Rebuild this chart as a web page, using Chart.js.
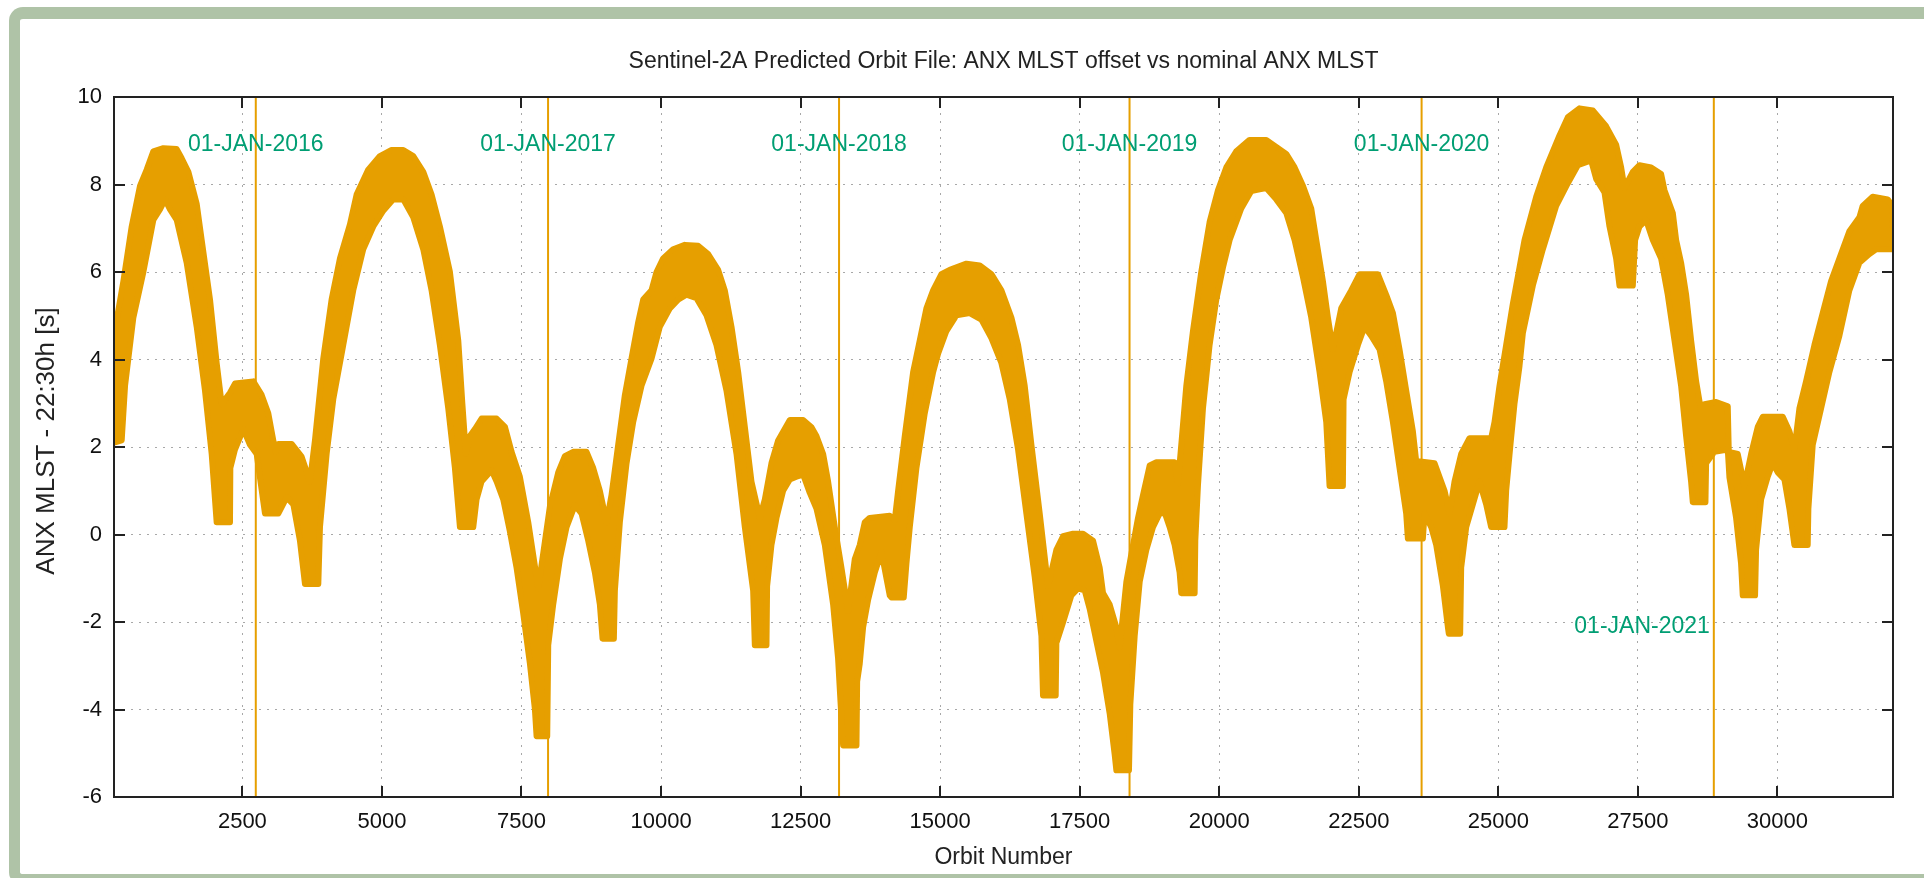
<!DOCTYPE html>
<html>
<head>
<meta charset="utf-8">
<title>Sentinel-2A Predicted Orbit File: ANX MLST offset</title>
<script src="https://cdn.jsdelivr.net/npm/chart.js@4.4.1/dist/chart.umd.min.js"></script>
<style>
    html, body { margin: 0; padding: 0; background: #fff; overflow: hidden; }
    #frame {
        position: absolute; left: 9px; top: 7px; width: 1960px; height: 879px;
        box-sizing: border-box; background: #fff;
        border-left: 11px solid #afc3a7; border-top: 12px solid #afc3a7; border-bottom: 12px solid #afc3a7;
        border-radius: 14px 0 0 14px;
    }
    #orbitChart { position: absolute; left: 0; top: 0; z-index: 1; }
</style>
</head>
<body>
<div id="frame"></div>
<canvas id="orbitChart" width="1924" height="878"></canvas>
<script>
// upper edge of the orange band (orbit number, offset in s)
const orbitTop = [201, 213, 368, 517, 666, 786, 905, 1084, 1323, 1412, 1532, 1681, 1771, 1920, 2039, 2129, 2278, 2367, 2696, 2845,
    2964, 3054, 3096, 3143, 3382, 3561, 3710, 3800, 3949, 4098, 4248, 4427, 4546, 4755, 4964, 5173, 5382, 5561, 5740, 5889,
    6038, 6218, 6367, 6440, 6504, 6576, 6666, 6785, 7054, 7203, 7322, 7471, 7621, 7800, 8009, 8158, 8277, 8426, 8665, 8785,
    8904, 9024, 9113, 9232, 9352, 9471, 9590, 9680, 9829, 9919, 10038, 10217, 10426, 10665, 10844, 11023, 11142, 11262, 11382, 11501,
    11620, 11769, 11859, 11978, 12098, 12307, 12545, 12695, 12784, 12904, 12993, 13113, 13232, 13351, 13471, 13560, 13650, 13739, 14097, 14187,
    14247, 14366, 14516, 14635, 14754, 14874, 15023, 15172, 15471, 15709, 15918, 16097, 16276, 16396, 16515, 16635, 16784, 16933, 17082, 17202,
    17381, 17560, 17739, 17858, 17918, 18037, 18157, 18216, 18336, 18425, 18545, 18634, 18754, 18873, 19201, 19260, 19320, 19410, 19529, 19678,
    19827, 19977, 20126, 20305, 20544, 20842, 21021, 21200, 21350, 21499, 21648, 21738, 21857, 21946, 22036, 22185, 22364, 22514, 22842, 22991,
    23111, 23230, 23349, 23469, 23528, 23857, 24036, 24126, 24215, 24334, 24483, 24871, 24931, 25021, 25140, 25259, 25379, 25469, 25678, 25857,
    26095, 26245, 26453, 26692, 26931, 27110, 27200, 27259, 27409, 27528, 27737, 27916, 27976, 28125, 28185, 28274, 28364, 28453, 28543, 28632,
    28692, 28901, 29110, 29128, 29289, 29408, 29528, 29647, 29737, 30095, 30214, 30304, 30393, 30512, 30662, 30811, 30960, 31109, 31288, 31468,
    31527, 31706, 31975, 32064];
const offsetTop = [3.81, 4.65, 5.79, 7.04, 7.97, 8.34, 8.76, 8.83, 8.81, 8.60, 8.29, 7.56, 6.73, 5.37, 3.92, 2.98, 3.24, 3.45, 3.50, 3.19,
    2.77, 2.15, 1.89, 2.07, 2.07, 1.78, 1.21, 2.15, 4.02, 5.37, 6.31, 7.09, 7.77, 8.34, 8.65, 8.79, 8.79, 8.65, 8.29, 7.77,
    7.04, 6.00, 4.44, 3.00, 1.84, 2.25, 2.41, 2.65, 2.65, 2.46, 1.89, 1.32, 0.28, -1.23, 0.64, 1.42, 1.79, 1.89, 1.89, 1.52,
    1.00, 0.28, 0.90, 2.05, 3.19, 4.02, 4.85, 5.37, 5.58, 6.00, 6.31, 6.52, 6.62, 6.60, 6.41, 6.05, 5.58, 4.75, 3.71, 2.46,
    1.21, 0.38, 0.80, 1.63, 2.15, 2.62, 2.62, 2.45, 2.25, 1.84, 1.21, 0.17, -0.76, -1.75, -0.56, -0.24, 0.28, 0.38, 0.43, 0.33,
    1.00, 2.25, 3.71, 4.44, 5.17, 5.58, 5.95, 6.05, 6.19, 6.15, 5.95, 5.58, 4.96, 4.33, 3.40, 2.05, 0.48, -1.18, -0.35, -0.04,
    0.02, 0.02, -0.14, -0.76, -1.34, -1.60, -2.12, -2.58, -1.08, -0.45, 0.38, 0.90, 1.58, 1.65, 1.65, 1.16, 2.05, 3.40, 4.65, 6.00,
    7.14, 7.87, 8.39, 8.76, 9.02, 9.02, 8.86, 8.70, 8.39, 7.97, 7.45, 6.73, 5.79, 4.96, 4.23, 5.17, 5.58, 5.95, 5.95, 5.48,
    5.06, 4.23, 3.29, 2.36, 1.68, 1.63, 1.00, 0.48, 1.21, 1.84, 2.20, 2.20, 2.57, 3.40, 4.33, 5.27, 6.10, 6.73, 7.72, 8.39,
    9.12, 9.54, 9.74, 9.69, 9.33, 8.91, 8.39, 7.92, 8.29, 8.44, 8.39, 8.24, 7.87, 7.35, 6.73, 6.21, 5.48, 4.44, 3.50, 2.83,
    2.98, 3.03, 2.93, 1.89, 1.84, 1.11, 1.84, 2.46, 2.69, 2.69, 2.36, 1.94, 2.88, 3.50, 4.33, 5.06, 5.79, 6.31, 6.93, 7.25,
    7.51, 7.72, 7.66, 7.51];

// lower edge of the orange band
const orbitBottom = [201, 338, 398, 547, 726, 905, 1024, 1114, 1203, 1323, 1502, 1681, 1830, 1950, 2039, 2278, 2284, 2367, 2517, 2636,
    2756, 2905, 3143, 3293, 3412, 3531, 3621, 3860, 3890, 4009, 4128, 4307, 4486, 4665, 4845, 5024, 5203, 5382, 5561, 5740,
    5889, 6038, 6188, 6307, 6397, 6636, 6695, 6785, 6964, 7054, 7173, 7292, 7412, 7531, 7651, 7740, 7770, 7961, 7979, 8068,
    8188, 8307, 8456, 8576, 8695, 8815, 8904, 8952, 9155, 9173, 9262, 9382, 9501, 9650, 9829, 9978, 10158, 10307, 10456, 10635,
    10814, 10993, 11172, 11352, 11501, 11650, 11680, 11889, 11900, 11978, 12068, 12187, 12307, 12426, 12545, 12665, 12784, 12934, 13083, 13172,
    13232, 13262, 13501, 13513, 13560, 13620, 13710, 13829, 13948, 14097, 14127, 14348, 14396, 14456, 14575, 14724, 14874, 14963, 15112, 15291,
    15530, 15739, 15918, 16097, 16247, 16396, 16545, 16694, 16814, 16843, 17070, 17082, 17202, 17351, 17470, 17590, 17679, 17798, 17918, 18037,
    18127, 18157, 18383, 18407, 18485, 18575, 18694, 18813, 18933, 19022, 19111, 19201, 19290, 19320, 19559, 19571, 19618, 19708, 19827, 19947,
    20066, 20186, 20394, 20574, 20723, 20842, 21021, 21200, 21350, 21499, 21648, 21797, 21917, 21976, 22215, 22227, 22335, 22484, 22603, 22723,
    22872, 22991, 23111, 23230, 23349, 23379, 23648, 23678, 23797, 23887, 24007, 24096, 24113, 24316, 24334, 24424, 24543, 24662, 24782, 24871,
    25110, 25140, 25220, 25290, 25379, 25439, 25618, 25797, 26036, 26245, 26424, 26662, 26752, 26901, 26991, 27110, 27170, 27409, 27450, 27528,
    27647, 27767, 27916, 28035, 28155, 28274, 28364, 28453, 28483, 28710, 28722, 28871, 29110, 29140, 29259, 29348, 29378, 29599, 29617, 29707,
    29826, 29916, 30005, 30125, 30214, 30304, 30542, 30554, 30632, 30781, 30930, 31109, 31288, 31468, 31647, 31766, 32064];
const offsetBottom = [2.10, 2.15, 3.40, 4.96, 6.00, 7.19, 7.43, 7.66, 7.43, 7.19, 6.21, 4.75, 3.29, 1.84, 0.28, 0.28, 1.52, 1.94, 2.41, 2.05,
    1.84, 0.48, 0.48, 0.85, 0.69, -0.14, -1.13, -1.13, 0.17, 1.84, 3.09, 4.33, 5.58, 6.52, 7.04, 7.40, 7.66, 7.66, 7.25, 6.52,
    5.58, 4.33, 2.88, 1.52, 0.17, 0.17, 0.80, 1.21, 1.47, 1.21, 0.80, 0.07, -0.76, -1.80, -2.95, -3.99, -4.61, -4.61, -2.53, -1.60,
    -0.56, 0.17, 0.67, 0.48, -0.14, -0.87, -1.60, -2.38, -2.38, -1.28, 0.28, 1.63, 2.57, 3.40, 4.02, 4.75, 5.17, 5.37, 5.48, 5.40,
    5.01, 4.33, 3.29, 1.84, 0.17, -1.28, -2.53, -2.53, -1.18, -0.24, 0.38, 1.00, 1.26, 1.32, 1.37, 0.95, 0.59, -0.24, -1.60, -2.84,
    -4.20, -4.82, -4.82, -3.36, -2.95, -2.12, -1.49, -0.87, -0.40, -1.39, -1.44, -1.44, -0.66, 0.17, 1.52, 2.77, 3.71, 4.13, 4.65, 5.01,
    5.06, 4.91, 4.49, 3.92, 3.09, 1.94, 0.48, -0.97, -2.32, -3.68, -3.68, -2.48, -2.01, -1.39, -1.23, -1.28, -1.70, -2.43, -3.16, -4.09,
    -5.03, -5.39, -5.39, -3.88, -2.32, -1.08, -0.35, 0.17, 0.48, 0.50, 0.17, -0.24, -0.87, -1.34, -1.34, -0.14, 1.11, 2.88, 4.33, 5.37,
    6.10, 6.73, 7.45, 7.85, 7.89, 7.92, 7.66, 7.35, 6.73, 5.89, 4.96, 3.71, 2.57, 1.11, 1.11, 3.09, 3.71, 4.33, 4.75, 4.54,
    4.23, 3.50, 2.57, 1.52, 0.48, -0.09, -0.09, 0.48, 0.17, -0.24, -1.18, -2.12, -2.27, -2.27, -0.76, 0.17, 0.69, 1.21, 0.69, 0.17,
    0.17, 1.00, 2.10, 3.00, 3.85, 4.60, 5.69, 6.52, 7.51, 8.03, 8.44, 8.55, 8.13, 7.82, 7.04, 6.31, 5.69, 5.69, 6.73, 7.04,
    7.19, 6.73, 6.31, 5.48, 4.44, 3.40, 2.25, 1.21, 0.74, 0.74, 1.63, 1.89, 1.94, 1.30, 0.38, -0.66, -1.39, -1.39, -0.35, 0.80,
    1.32, 1.63, 1.42, 1.26, 0.59, -0.24, -0.24, 0.59, 2.05, 2.88, 3.71, 4.54, 5.58, 6.21, 6.41, 6.52, 6.52];

const yearOrbits = [2740, 7976, 13189, 18393, 23625, 28860];
const yearLabels = ['01-JAN-2016', '01-JAN-2017', '01-JAN-2018', '01-JAN-2019', '01-JAN-2020', '01-JAN-2021'];
const yearLabelOffsets = [8.9, 8.9, 8.9, 8.9, 8.9, -2.1];

const orbitTicks = [2500, 5000, 7500, 10000, 12500, 15000, 17500, 20000, 22500, 25000, 27500, 30000];
const offsetTicks = [-6, -4, -2, 0, 2, 4, 6, 8, 10];
const orbitRange = [200, 32070];
const offsetRange = [-6, 10];

const ORANGE = '#e69f00';
const GREEN = '#009e73';
const AXIS = '#222222';
const GRID = '#a8a8a8';
const FONT = '"Liberation Sans", Arial, Helvetica, sans-serif';

// band outline: upper edge left to right, then lower edge back
const band = orbitTop.map((o, i) => ({ x: o, y: offsetTop[i] }))
    .concat(orbitBottom.map((o, i) => ({ x: o, y: offsetBottom[i] })).reverse());

const datasets = [{
    label: 'ANX MLST offset',
    data: band,
    borderColor: ORANGE,
    backgroundColor: ORANGE,
    borderWidth: 6,
    borderJoinStyle: 'round',
    pointRadius: 0,
    tension: 0,
    fill: 'shape'
}];

yearOrbits.forEach((orbit, i) => {
    datasets.push({
        label: yearLabels[i],
        data: [{ x: orbit, y: offsetRange[0] }, { x: orbit, y: offsetRange[1] }],
        borderColor: ORANGE,
        borderWidth: 2,
        pointRadius: 0,
        fill: false
    });
});

const gnuplotLook = {
    id: 'gnuplotLook',
    afterDatasetsDraw(chart) {
        const { ctx, chartArea: a, scales: { x, y } } = chart;
        ctx.save();
        ctx.strokeStyle = AXIS;
        ctx.lineWidth = 2;
        ctx.strokeRect(a.left, a.top, a.right - a.left, a.bottom - a.top);

        // inward ticks on all four sides
        ctx.beginPath();
        orbitTicks.forEach(v => {
            const px = Math.round(x.getPixelForValue(v));
            ctx.moveTo(px, a.bottom); ctx.lineTo(px, a.bottom - 11);
            ctx.moveTo(px, a.top); ctx.lineTo(px, a.top + 11);
        });
        offsetTicks.forEach(v => {
            const py = Math.round(y.getPixelForValue(v));
            ctx.moveTo(a.left, py); ctx.lineTo(a.left + 11, py);
            ctx.moveTo(a.right, py); ctx.lineTo(a.right - 11, py);
        });
        ctx.stroke();

        // year labels
        ctx.font = '23px ' + FONT;
        ctx.fillStyle = GREEN;
        ctx.textBaseline = 'middle';
        yearOrbits.forEach((orbit, i) => {
            const px = x.getPixelForValue(orbit);
            const py = y.getPixelForValue(yearLabelOffsets[i]);
            const last = i === yearOrbits.length - 1;
            ctx.textAlign = last ? 'right' : 'center';
            ctx.fillText(yearLabels[i], last ? px - 4 : px, py);
        });
        ctx.restore();
    },
    afterDraw(chart) {
        const { ctx, chartArea: a } = chart;
        const cx = (a.left + a.right) / 2;
        ctx.save();
        ctx.fillStyle = AXIS;
        ctx.textAlign = 'center';
        ctx.textBaseline = 'middle';
        ctx.font = '23px ' + FONT;
        ctx.fillText('Sentinel-2A Predicted Orbit File: ANX MLST offset vs nominal ANX MLST', cx, 62);
        ctx.fillText('Orbit Number', cx, 858);

        ctx.translate(47, 441);
        ctx.rotate(-Math.PI / 2);
        ctx.font = '26px ' + FONT;
        ctx.fillText('ANX MLST - 22:30h [s]', 0, 0);
        ctx.restore();
    }
};

new Chart(document.getElementById('orbitChart'), {
    type: 'line',
    data: { datasets },
    options: {
        responsive: false,
        animation: false,
        devicePixelRatio: 1,
        layout: { padding: { top: 97, right: 31, left: 0, bottom: 0 } },
        plugins: {
            legend: { display: false },
            tooltip: { enabled: false },
            title: { display: false }
        },
        scales: {
            x: {
                type: 'linear',
                min: orbitRange[0],
                max: orbitRange[1],
                afterBuildTicks: scale => { scale.ticks = orbitTicks.map(v => ({ value: v })); },
                afterFit: scale => { scale.height = 81; },
                grid: { color: GRID, lineWidth: 1, drawTicks: false },
                border: { display: true, color: AXIS, width: 2, dash: [2, 6] },
                ticks: {
                    padding: 12,
                    color: '#111',
                    font: { family: FONT, size: 22 },
                    maxRotation: 0,
                    autoSkip: false,
                    callback: v => String(v)
                }
            },
            y: {
                type: 'linear',
                min: offsetRange[0],
                max: offsetRange[1],
                afterBuildTicks: scale => { scale.ticks = offsetTicks.map(v => ({ value: v })); },
                afterFit: scale => { scale.width = 114; },
                grid: { color: GRID, lineWidth: 1, drawTicks: false },
                border: { display: true, color: AXIS, width: 2, dash: [2, 6] },
                ticks: {
                    padding: 12,
                    color: '#111',
                    font: { family: FONT, size: 22 },
                    callback: v => String(v)
                }
            }
        }
    },
    plugins: [gnuplotLook]
});
</script>
</body>
</html>
